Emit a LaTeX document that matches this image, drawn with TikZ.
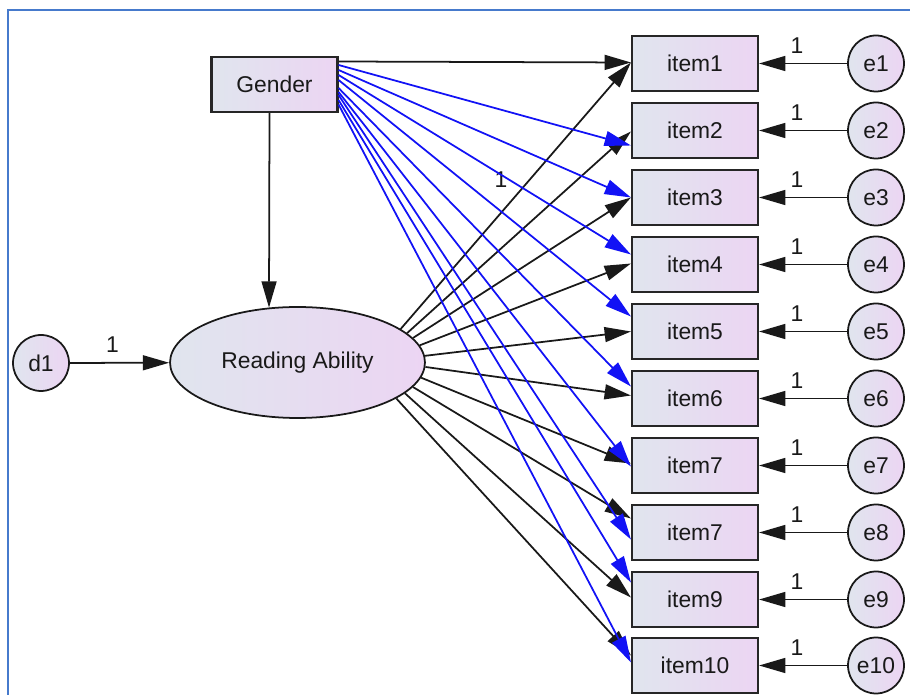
\documentclass[tikz,border=0pt]{standalone}
\usepackage{fontspec}
\setmainfont{Liberation Sans}
\usetikzlibrary{arrows.meta,calc,shapes.geometric}
\definecolor{shadeleft}{RGB}{224,229,238}
\definecolor{shaderight}{RGB}{236,213,243}
\definecolor{framecol}{RGB}{70,122,204}
\definecolor{pathblue}{RGB}{18,18,245}

\begin{document}
\begin{tikzpicture}[x=0.02cm, y=-0.02cm,
    every node/.style={font=\fontsize{13}{15}\selectfont, text=black!90},
    observed/.style={draw=black!85, line width=1.2pt, left color=shadeleft, right color=shaderight,
        minimum width=2.52cm, minimum height=1.1cm, inner sep=0pt},
    latent/.style={ellipse, draw=black!90, line width=1pt, left color=shadeleft, right color=shaderight,
        minimum width=5.1cm, minimum height=2.22cm, inner sep=0pt},
    errorvar/.style={circle, draw=black!90, line width=1pt, left color=shadeleft, right color=shaderight,
        minimum size=1.12cm, inner sep=0pt},
    loading/.style={->, black!90, line width=1pt},
    genderpath/.style={->, pathblue, line width=1pt},
    >={Triangle[length=15pt,width=8.5pt]}]

    \useasboundingbox (0,0) rectangle (910,695);

    % the frame round the model
    \draw[framecol, line width=1.4pt] (8,695) -- (8,10) -- (910,10);

    % draw the variables
    \node[observed] (gender) at (274.5,84.5) {Gender};
    \node[latent] (ra) at (297.5,362.5) {Reading Ability};
    \node[errorvar] (d1) at (41,363) {d1};

    \node[observed] (item1) at (695,63.5) {item1};
    \node[observed] (item2) at (695,130.5) {item2};
    \node[observed] (item3) at (695,197.5) {item3};
    \node[observed] (item4) at (695,264.5) {item4};
    \node[observed] (item5) at (695,331.5) {item5};
    \node[observed] (item6) at (695,398.5) {item6};
    \node[observed] (item7) at (695,465.5) {item7};
    \node[observed] (item8) at (695,532.5) {item7};
    \node[observed] (item9) at (695,599.5) {item9};
    \node[observed] (item10) at (695,665.5) {item10};

    \node[errorvar] (e1) at (876,63.5) {e1};
    \node[errorvar] (e2) at (876,130.5) {e2};
    \node[errorvar] (e3) at (876,197.5) {e3};
    \node[errorvar] (e4) at (876,264.5) {e4};
    \node[errorvar] (e5) at (876,331.5) {e5};
    \node[errorvar] (e6) at (876,398.5) {e6};
    \node[errorvar] (e7) at (876,465.5) {e7};
    \node[errorvar] (e8) at (876,532.5) {e8};
    \node[errorvar] (e9) at (876,599.5) {e9};
    \node[errorvar] (e10) at (876,665.5) {e10};

    % the disturbance and the path from gender
    \draw[loading] (d1) -- node[pos=0.43, above=2pt] {1} (ra);
    \draw[loading] ($(gender.south)+(-5,0)$) -- ($(ra.north)+(-28.5,1.5)$);

    % the loadings of reading ability on the items
    \draw[loading] (ra.18.9) -- node[midway, above left=1pt] {1} ($(item1.west)+(0,-1)$);
    \draw[loading] (ra.15.3) -- ($(item2.west)+(0,1)$);
    \draw[loading] (ra.12.2) -- (item3.west);
    \draw[loading] (ra.8) -- ($(item4.west)+(0,-1)$);
    \draw[loading] (ra.3.2) -- (item5.west);
    \draw[loading] (ra.-2.7) -- ($(item6.west)+(0,-3)$);
    \draw[loading] (ra.-7.4) -- ($(item7.west)+(0,-2)$);
    \draw[loading] (ra.-12.5) -- ($(item8.west)+(0,-14)$);
    \draw[loading] (ra.-16.8) -- ($(item9.west)+(0,-2)$);
    \draw[loading] (ra.-20.3) -- ($(item10.west)+(0,-10)$);

    % direct paths from gender to the items
    \draw[loading] ($(gender.east)+(0,-23)$) -- ($(item1.west)+(0,-1)$);
    \draw[genderpath] ($(gender.east)+(0,-19.5)$) -- ($(item2.west)+(0,15)$);
    \draw[genderpath] ($(gender.east)+(0,-14.5)$) -- (item3.west);
    \draw[genderpath] ($(gender.east)+(0,-9.5)$) -- ($(item4.west)+(0,-10)$);
    \draw[genderpath] ($(gender.east)+(0,-4.5)$) -- ($(item5.west)+(0,-15)$);
    \draw[genderpath] ($(gender.east)+(0,3.5)$) -- ($(item6.west)+(0,-12)$);
    \draw[genderpath] ($(gender.east)+(0,7.5)$) -- ($(item7.west)+(0,1)$);
    \draw[genderpath] ($(gender.east)+(0,10.5)$) -- ($(item8.west)+(0,7)$);
    \draw[genderpath] ($(gender.east)+(0,15.5)$) -- ($(item9.west)+(0,-17)$);
    \draw[genderpath] ($(gender.east)+(0,20)$) -- ($(item10.west)+(0,-3)$);

    % the errors on the items
    \draw[loading] (e1) -- node[pos=0.57, above=2pt] {1} (item1);
    \draw[loading] (e2) -- node[pos=0.57, above=2pt] {1} (item2);
    \draw[loading] (e3) -- node[pos=0.57, above=2pt] {1} (item3);
    \draw[loading] (e4) -- node[pos=0.57, above=2pt] {1} (item4);
    \draw[loading] (e5) -- node[pos=0.57, above=2pt] {1} (item5);
    \draw[loading] (e6) -- node[pos=0.57, above=2pt] {1} (item6);
    \draw[loading] (e7) -- node[pos=0.57, above=2pt] {1} (item7);
    \draw[loading] (e8) -- node[pos=0.57, above=2pt] {1} (item8);
    \draw[loading] (e9) -- node[pos=0.57, above=2pt] {1} (item9);
    \draw[loading] (e10) -- node[pos=0.57, above=2pt] {1} (item10);
\end{tikzpicture}
\end{document}
